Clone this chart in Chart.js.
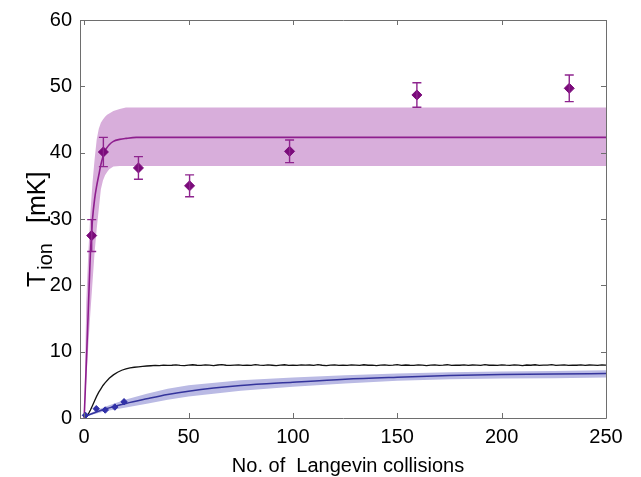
<!DOCTYPE html>
<html><head><meta charset="utf-8">
<script src="https://cdn.jsdelivr.net/npm/chart.js@4/dist/chart.umd.min.js"></script>
<style>html,body{margin:0;padding:0;background:#fff}#wrap{width:641px;height:477px}</style>
</head><body><div id="wrap"><canvas id="c" width="641" height="477"></canvas></div>
<script>
// ---- tick labels ----
const xTicks = [0, 50, 100, 150, 200, 250];
const yTicks = [0, 10, 20, 30, 40, 50, 60];

// ---- purple (measured) points with error bars ----
const purpleX = [3.6, 9.2, 26.0, 50.5, 98.4, 159.4, 232.4];
const purpleY = [27.5, 40.1, 37.7, 35.0, 40.2, 48.7, 49.7];
const purpleErr = [2.4, 2.2, 1.7, 1.65, 1.7, 1.85, 2.0];

// ---- purple fit curve and band ----
const purpleBandX = [0, 1, 2, 3, 4, 5, 6, 7, 8, 9, 10, 11, 12, 14, 17, 20, 25, 30, 40, 60, 100, 150, 200, 250];
const purpleFit   = [0, 8, 16.5, 25, 30, 33, 35, 36.6, 38.2, 39.4, 40.3, 40.8, 41.2, 41.7, 42.0, 42.15, 42.3, 42.3, 42.3, 42.3, 42.3, 42.3, 42.3, 42.3];
const purpleUpper = [0, 17.5, 25, 31, 35.5, 39, 42, 43.6, 44.5, 45, 45.4, 45.7, 45.9, 46.3, 46.6, 46.8, 46.8, 46.8, 46.8, 46.8, 46.8, 46.8, 46.8, 46.8];
const purpleLower = [0, 5.5, 11, 16, 20.5, 25, 28.5, 31.5, 34.5, 35.8, 36.6, 37.1, 37.5, 37.9, 38, 38, 38, 38, 38, 38, 38, 38, 38, 38];

// ---- blue points, fit curve and band ----
const blueX = [0.6, 5.8, 10.1, 14.7, 19.1];
const blueY = [0.4, 1.4, 1.2, 1.65, 2.45];
const blueErr = [0.2, 0.2, 0.2, 0.25, 0.4];
const blueBandX = [0, 5, 10, 20, 30, 40, 50, 75, 100, 125, 150, 175, 200, 225, 250];
const blueFit   = [0.2, 0.8, 1.35, 2.2, 2.9, 3.55, 4.05, 4.9, 5.4, 5.85, 6.15, 6.4, 6.55, 6.65, 6.7];
const blueUpper = [0.3, 1.0, 1.7, 2.8, 3.65, 4.4, 4.95, 5.7, 6.1, 6.45, 6.7, 6.9, 7.0, 7.1, 7.2];
const blueLower = [0.1, 0.6, 1.0, 1.6, 2.15, 2.75, 3.25, 4.1, 4.7, 5.2, 5.6, 5.85, 5.95, 6.0, 6.1];

// ---- black simulated curve ----
const blackStartX = [0, 1, 2, 3, 4, 5, 6, 7, 8, 9, 10, 12, 14, 16, 18, 20, 22, 24, 26, 28, 30];
const blackStartY = [0, 0.2, 0.6, 1.2, 1.9, 2.6, 3.3, 3.9, 4.4, 4.9, 5.3, 6.0, 6.5, 6.9, 7.2, 7.4, 7.55, 7.65, 7.72, 7.78, 7.84];
const blackPlateauY = [
7.88,7.92,7.9,7.97,7.93,7.95,8.02,7.94,7.9,7.98,
8.03,7.95,7.92,8.0,7.96,7.91,7.99,8.04,7.95,7.93,
7.97,8.02,7.94,7.98,7.92,8.05,7.96,7.93,8.0,7.95,
7.9,7.98,8.03,7.94,7.97,7.92,8.01,7.96,7.99,7.93,
8.04,7.95,7.91,7.98,8.02,7.94,7.97,7.92,8.0,7.96,
7.93,8.03,7.95,7.98,7.9,7.97,8.01,7.94,7.96,8.04,
7.92,7.99,7.95,7.93,8.02,7.97,7.91,7.98,8.0,7.94,
7.96,8.03,7.92,7.97,7.95,8.01,7.93,7.99,7.96,7.92,
8.04,7.95,7.98,7.93,8.0,7.96,7.94,8.02,7.97,7.91,
7.99,7.95,8.03,7.93,7.98,7.96,8.05,7.94,7.97,8.0,
7.92,7.98,7.95,8.02,7.94,7.99,7.96,7.93,8.01,7.97];
const blackPlateauStart = 32, blackPlateauStep = 2;

const pts = (xs, ys) => xs.map((x, i) => ({x: x, y: ys[i]}));
const blackData = pts(blackStartX, blackStartY).concat(
  blackPlateauY.map((y, i) => ({x: blackPlateauStart + i * blackPlateauStep, y: y})));

const FONT = "'Liberation Sans', Arial, sans-serif";
const AXC = '#6e6e6e';

const decor = {
  id: 'decor',
  afterDatasetsDraw(chart) {
    const ctx = chart.ctx, xs = chart.scales.x, ys = chart.scales.y;
    function bars(xv, yv, ev, color, cap, lw) {
      ctx.save();
      ctx.strokeStyle = color; ctx.lineWidth = lw;
      xv.forEach((x, i) => {
        const px = xs.getPixelForValue(x);
        const t = ys.getPixelForValue(yv[i] + ev[i]);
        const b = ys.getPixelForValue(yv[i] - ev[i]);
        ctx.beginPath();
        ctx.moveTo(px, t); ctx.lineTo(px, b);
        if (cap > 0) {
          ctx.moveTo(px - cap, t); ctx.lineTo(px + cap, t);
          ctx.moveTo(px - cap, b); ctx.lineTo(px + cap, b);
        }
        ctx.stroke();
      });
      ctx.restore();
    }
    bars(purpleX, purpleY, purpleErr, '#8e248e', 4.5, 1.4);
    bars(blueX, blueY, blueErr, '#3434a6', 0, 1.4);
  },
  afterDraw(chart) {
    const ctx = chart.ctx, a = chart.chartArea, xs = chart.scales.x, ys = chart.scales.y;
    ctx.save();
    ctx.strokeStyle = AXC; ctx.lineWidth = 1;
    ctx.beginPath();
    ctx.rect(Math.round(a.left) + 0.5, Math.round(a.top) + 0.5, Math.round(a.right - a.left), Math.round(a.bottom - a.top));
    ctx.stroke();
    const L = 5;
    ctx.beginPath();
    xTicks.forEach(v => {
      const p = Math.round(xs.getPixelForValue(v)) + 0.5;
      ctx.moveTo(p, a.bottom); ctx.lineTo(p, a.bottom - L);
      ctx.moveTo(p, a.top); ctx.lineTo(p, a.top + L);
    });
    yTicks.forEach(v => {
      const p = Math.round(ys.getPixelForValue(v)) + 0.5;
      ctx.moveTo(a.left, p); ctx.lineTo(a.left + L, p);
      ctx.moveTo(a.right, p); ctx.lineTo(a.right - L, p);
    });
    ctx.stroke();
    // titles
    ctx.fillStyle = '#000';
    ctx.font = '20px ' + FONT;
    ctx.textAlign = 'center'; ctx.textBaseline = 'alphabetic';
    ctx.fillText('No. of  Langevin collisions', 348, 472);
    // y title with subscript
    ctx.translate(45, 287);
    ctx.rotate(-Math.PI / 2);
    ctx.textAlign = 'left';
    ctx.font = '25px ' + FONT;
    ctx.fillText('T', 0, 0);
    let w = ctx.measureText('T').width;
    ctx.font = '20px ' + FONT;
    ctx.fillText('ion', w + 2, 7);
    w += 2 + ctx.measureText('ion').width;
    ctx.font = '25px ' + FONT;
    ctx.fillText('[mK]', w + 20, 0);
    ctx.restore();
  }
};

new Chart(document.getElementById('c'), {
  type: 'line',
  data: {
    datasets: [
      {data: pts(purpleBandX, purpleUpper), borderWidth: 0, pointRadius: 0, fill: '+1', backgroundColor: 'rgba(216,174,219,1)', order: 10},
      {data: pts(purpleBandX, purpleLower), borderWidth: 0, pointRadius: 0, fill: false, order: 10},
      {data: pts(blueBandX, blueUpper), borderWidth: 0, pointRadius: 0, fill: '+1', backgroundColor: 'rgba(186,186,228,1)', order: 9},
      {data: pts(blueBandX, blueLower), borderWidth: 0, pointRadius: 0, fill: false, order: 9},
      {data: blackData, borderColor: '#111', borderWidth: 1.3, pointRadius: 0, fill: false, order: 5},
      {data: pts(purpleBandX, purpleFit), borderColor: '#8e1e8e', borderWidth: 1.6, pointRadius: 0, fill: false, cubicInterpolationMode: 'monotone', order: 4},
      {data: pts(blueBandX, blueFit), borderColor: '#34349c', borderWidth: 1.5, pointRadius: 0, fill: false, cubicInterpolationMode: 'monotone', order: 4},
      {data: pts(blueX, blueY), showLine: false, pointStyle: 'rectRot', pointRadius: 3.2, backgroundColor: '#3030a8', borderColor: '#3030a8', borderWidth: 1, order: 1},
      {data: pts(purpleX, purpleY), showLine: false, pointStyle: 'rectRot', pointRadius: 5, backgroundColor: '#7a0a7a', borderColor: '#7a0a7a', borderWidth: 1, order: 1}
    ]
  },
  options: {
    responsive: false, animation: false, devicePixelRatio: 1,
    layout: {padding: {left: 0, right: 35, top: 8, bottom: 0}},
    plugins: {legend: {display: false}, tooltip: {enabled: false}},
    elements: {line: {tension: 0}},
    scales: {
      x: {
        type: 'linear', min: -2, max: 250,
        grid: {display: false, drawTicks: false}, border: {display: false},
        afterBuildTicks: s => { s.ticks = xTicks.map(v => ({value: v})); },
        afterFit: s => { s.height = 59; },
        ticks: {color: '#000', font: {size: 20, family: FONT}, padding: 7, maxRotation: 0}
      },
      y: {
        type: 'linear', min: 0, max: 60,
        grid: {display: false, drawTicks: false}, border: {display: false},
        afterBuildTicks: s => { s.ticks = yTicks.map(v => ({value: v})); },
        afterFit: s => { s.width = 80; },
        ticks: {color: '#000', font: {size: 20, family: FONT}, padding: 8}
      }
    }
  },
  plugins: [decor]
});
</script></body></html>
